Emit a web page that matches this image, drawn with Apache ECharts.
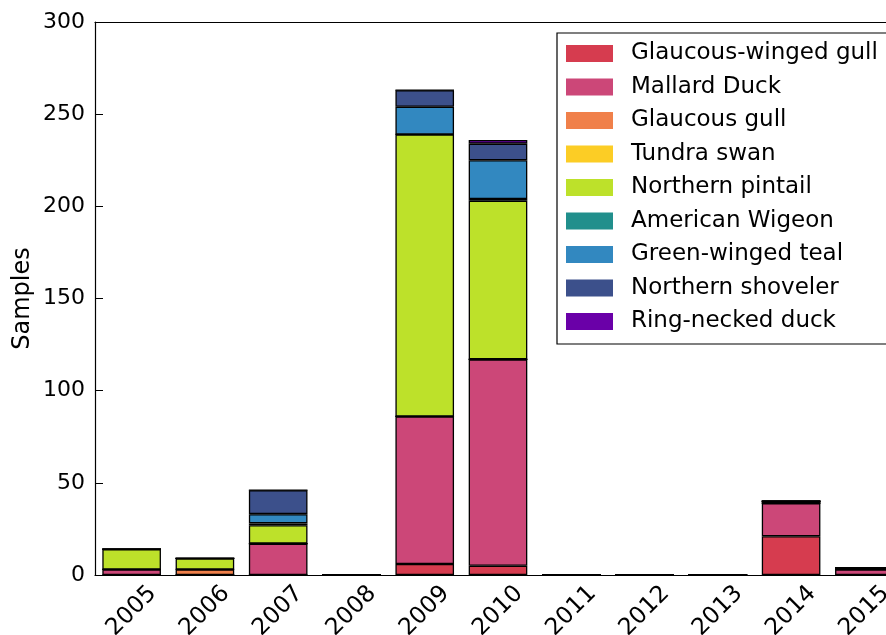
<!DOCTYPE html>
<html>
<head>
<meta charset="utf-8">
<script src="https://cdn.jsdelivr.net/npm/echarts@6/dist/echarts.min.js"></script>
<style>html,body{margin:0;padding:0;background:#fff;}#c{width:886px;height:635px;}</style>
</head>
<body>
<div id="c"></div>
<script>
const years = ['2005','2006','2007','2008','2009','2010','2011','2012','2013','2014','2015'];
const speciesNames = ['Glaucous-winged gull','Mallard Duck','Glaucous gull','Tundra swan','Northern pintail','American Wigeon','Green-winged teal','Northern shoveler','Ring-necked duck'];
const speciesColors = ['#d63c4f','#cc4778','#f0804a','#fccd25','#bde12a','#218f8c','#3288c0','#3c508b','#6a00a8'];
const glaucousWingedGull = [0, 0, 0, 0, 6, 5, 0, 0, 0, 21, 0];
const mallardDuck        = [3, 0, 17, 0, 80, 112, 0, 0, 0, 18, 3];
const glaucousGull       = [0, 3, 0, 0, 0, 0, 0, 0, 0, 0, 0];
const tundraSwan         = [0, 0, 0, 0, 0, 0, 0, 0, 0, 0, 0];
const northernPintail    = [11, 6, 10, 0, 153, 86, 0, 0, 0, 1, 1];
const americanWigeon     = [0, 0, 1, 0, 0, 1, 0, 0, 0, 0, 0];
const greenWingedTeal    = [0, 0, 5, 0, 15, 21, 0, 0, 0, 0, 0];
const northernShoveler   = [0, 0, 13, 0, 9, 9, 0, 0, 0, 0, 0];
const ringNeckedDuck     = [0, 0, 0, 0, 0, 2, 0, 0, 0, 0, 0];
const yTicks = [0, 50, 100, 150, 200, 250, 300];

const seriesData = [glaucousWingedGull, mallardDuck, glaucousGull, tundraSwan, northernPintail, americanWigeon, greenWingedTeal, northernShoveler, ringNeckedDuck];
const FONT = 'DejaVu Sans';

const chart = echarts.init(document.getElementById('c'), null, {renderer: 'canvas'});
chart.setOption({
  animation: false,
  backgroundColor: '#fff',
  textStyle: {fontFamily: FONT},
  grid: {left: 95, top: 22, width: 806, height: 553, containLabel: false, outerBoundsMode: 'none'},
  legend: {
    orient: 'vertical',
    left: 557, top: 33,
    padding: [9, 40, 11, 9],
    itemWidth: 47, itemHeight: 17, itemGap: 10.5,
    borderColor: '#000', borderWidth: 1.2,
    backgroundColor: '#fff',
    icon: 'rect',
    itemStyle: {borderWidth: 0},
    textStyle: {fontFamily: FONT, fontSize: 23, color: '#000', padding: [0, 0, 0, 13]},
    data: speciesNames,
    z: 10
  },
  xAxis: [{
    type: 'category',
    data: years,
    position: 'bottom',
    boundaryGap: true,
    axisLine: {lineStyle: {color: '#000', width: 1.2}},
    axisTick: {inside: true, alignWithLabel: true, length: 7, lineStyle: {color: '#000', width: 1}},
    axisLabel: {rotate: 45, align: 'center', verticalAlign: 'middle', margin: 36, fontFamily: FONT, fontSize: 23.5, color: '#000', interval: 0},
    splitLine: {show: false}
  }, {
    type: 'category',
    data: years,
    position: 'top',
    boundaryGap: true,
    axisLine: {lineStyle: {color: '#000', width: 1.2}},
    axisTick: {inside: true, alignWithLabel: true, length: 7, lineStyle: {color: '#000', width: 1}},
    axisLabel: {show: false},
    splitLine: {show: false}
  }],
  yAxis: {
    type: 'value',
    min: yTicks[0], max: yTicks[yTicks.length - 1], interval: 50,
    name: 'Samples',
    nameLocation: 'middle',
    nameGap: 60,
    nameMoveOverlap: false,
    nameTextStyle: {fontFamily: FONT, fontSize: 24, color: '#000'},
    axisLine: {show: true, lineStyle: {color: '#000', width: 1.2}},
    axisTick: {show: true, inside: true, length: 8, lineStyle: {color: '#000', width: 1}},
    axisLabel: {fontFamily: FONT, fontSize: 22, color: '#000', margin: 10},
    splitLine: {show: false}
  },
  series: speciesNames.map((name, i) => ({
    name: name,
    type: 'bar',
    stack: 'total',
    xAxisIndex: 0,
    barWidth: '80%',
    data: seriesData[i],
    itemStyle: {color: speciesColors[i], borderColor: '#000', borderWidth: 1.3}
  }))
});
</script>
</body>
</html>
